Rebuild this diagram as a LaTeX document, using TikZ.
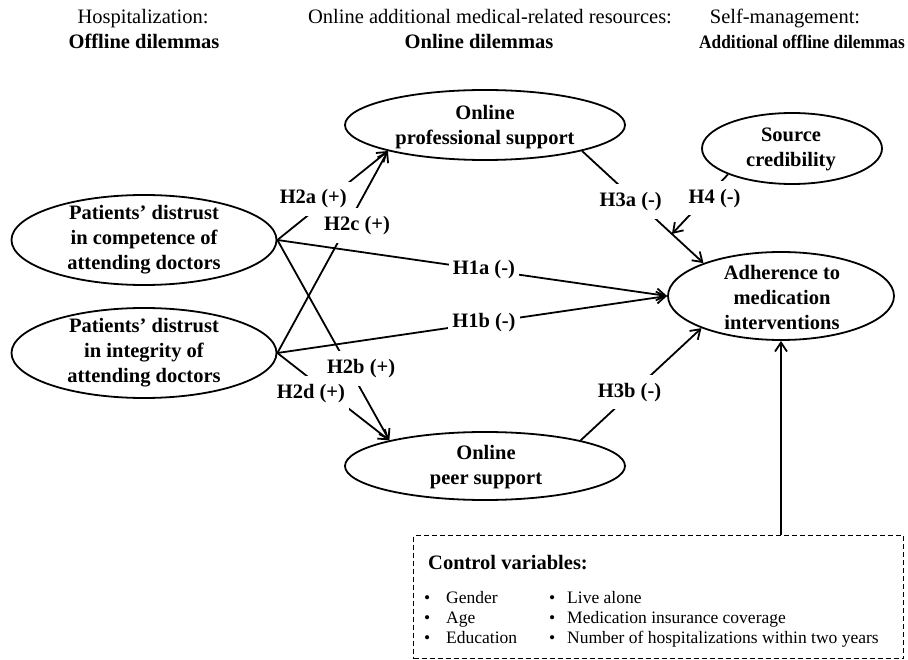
\documentclass[tikz,border=0pt]{standalone}
\usepackage{fontspec}
\setmainfont{Liberation Serif}
\usetikzlibrary{arrows.meta,shapes.geometric}
\begin{document}
\begin{tikzpicture}[x=1pt,y=-1pt,
  ell/.style={draw, ellipse, line width=1.8pt, inner sep=0pt},
  etxt/.style={align=center, font=\fontsize{20.5}{25}\selectfont\bfseries, inner sep=0pt},
  hd/.style={font=\fontsize{20.5}{24}\selectfont, inner sep=0pt},
  hdb/.style={font=\fontsize{20.5}{24}\selectfont\bfseries, inner sep=0pt},
  conn/.style={line width=1.8pt},
  arr/.style={conn, -{Straight Barb[length=9pt,width=12pt,line width=1.8pt]}},
  hyp/.style={fill=white, font=\fontsize{20.5}{24}\selectfont\bfseries, inner xsep=4pt, inner ysep=8pt},
  ctl/.style={font=\fontsize{17.5}{21}\selectfont, inner sep=0pt, anchor=base west},
]
\useasboundingbox (0,0) rectangle (908,660);

% headers
\node[hd, anchor=base] (h1) at (143,24) {Hospitalization:};
\node[hdb, anchor=base] (h1b) at (144,49) {Offline dilemmas};
\node[hd, anchor=base] (h2) at (490,24) {Online additional medical-related resources:};
\node[hdb, anchor=base] (h2b) at (479,49) {Online dilemmas};
\node[hd, anchor=base] (h3) at (785,24) {Self-management:};
\node[hdb, anchor=base east, font=\fontsize{19}{24}\selectfont\bfseries] (h3b) at (905,49) {\scalebox{0.91}[1]{Additional offline dilemmas}};

% ellipses
\node[ell, minimum width=265pt, minimum height=90pt] (comp) at (144,240) {};
\node[etxt] (compT) at (144,240) {Patients’ distrust\\in competence of\\attending doctors};
\node[ell, minimum width=265pt, minimum height=90pt] (integ) at (144,353) {};
\node[etxt] (integT) at (144,353) {Patients’ distrust\\in integrity of\\attending doctors};
\node[ell, minimum width=280pt, minimum height=70pt] (prof) at (485,125) {};
\node[etxt] (profT) at (485,127) {Online\\professional support};
\node[ell, minimum width=280pt, minimum height=68pt] (peer) at (485,466) {};
\node[etxt] (peerT) at (486,467) {Online\\peer support};
\node[ell, minimum width=180pt, minimum height=71pt] (src) at (792,148.5) {};
\node[etxt] (srcT) at (791,149) {Source\\credibility};
\node[ell, minimum width=226pt, minimum height=88pt] (adh) at (781,296) {};
\node[etxt] (adhT) at (782,297) {Adherence to\\medication\\interventions};

% connectors
\draw[arr] (comp.east) -- node[hyp, pos=0.53] (l1a) {H1a (-)} (adh.west);
\draw[arr] (integ.east) -- node[hyp, pos=0.53] (l1b) {H1b (-)} (adh.west);
\draw[arr] (comp.east) -- node[hyp, pos=0.46, xshift=-15pt] (l2a) {H2a (+)} (prof.195);
\draw[arr] (integ.east) -- node[hyp, pos=0.63, xshift=10pt] (l2c) {H2c (+)} (prof.195);
\draw[arr] (comp.east) -- node[hyp, pos=0.64, xshift=12pt] (l2b) {H2b (+)} (peer.165);
\draw[arr] (integ.east) -- node[hyp, pos=0.46, xshift=-18pt] (l2d) {H2d (+)} (peer.165);
\draw[arr] (prof.345) -- node[hyp, pos=0.45, xshift=-6pt] (l3a) {H3a (-)} coordinate[pos=0.74] (mod) (adh.157);
\draw[arr] (peer.15) -- node[hyp, pos=0.43, xshift=-3pt] (l3b) {H3b (-)} (adh.202);
\draw[arr] (src.202.5) -- node[hyp, pos=0.40, xshift=9pt] (l4) {H4 (-)} (mod);

% control variables
\node[draw, dashed, dash pattern=on 5pt off 3pt, line width=1pt, minimum width=490pt, minimum height=123pt, anchor=north west, inner sep=0pt] (ctrl) at (413,535) {};
\draw[arr] (adh.south |- ctrl.north) -- (adh.south);
\node[font=\fontsize{20.5}{24}\selectfont\bfseries, inner sep=0pt, anchor=base west] (ctitle) at (428,569) {Control variables:};
\node[ctl] (b1) at (424,603) {\textbullet};
\node[ctl] (g1) at (446,603) {Gender};
\node[ctl] (b2) at (424,623) {\textbullet};
\node[ctl] (g2) at (446,623) {Age};
\node[ctl] (b3) at (424,643) {\textbullet};
\node[ctl] (g3) at (446,643) {Education};
\node[ctl] (b4) at (549,603) {\textbullet};
\node[ctl] (g4) at (567,603) {Live alone};
\node[ctl] (b5) at (549,623) {\textbullet};
\node[ctl] (g5) at (567,623) {Medication insurance coverage};
\node[ctl] (b6) at (549,643) {\textbullet};
\node[ctl] (g6) at (567,643) {Number of hospitalizations within two years};
\end{tikzpicture}
\end{document}
